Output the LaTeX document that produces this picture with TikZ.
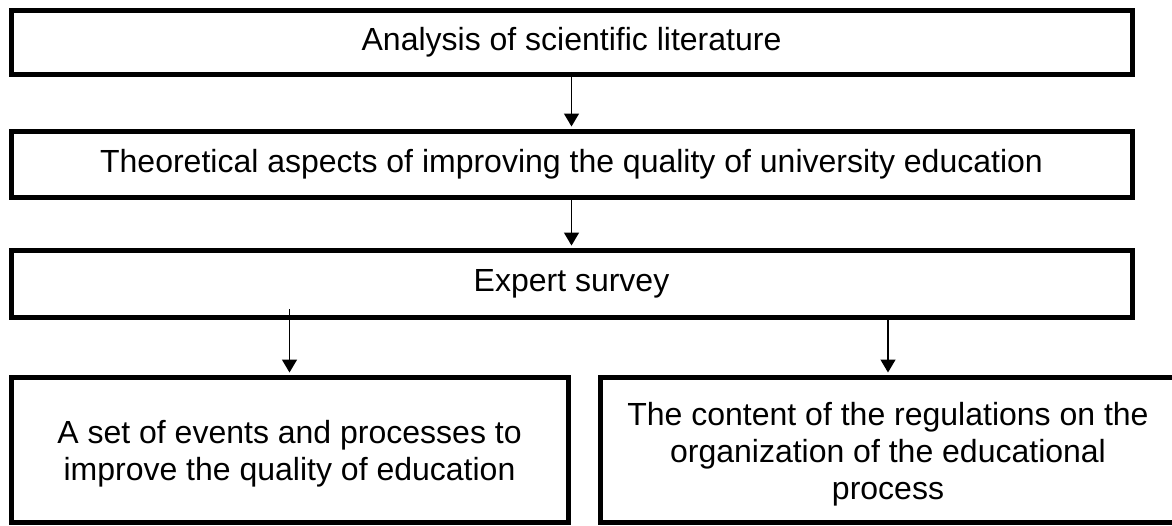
\documentclass[tikz,border=0pt]{standalone}
\usepackage{fontspec}
\setmainfont{Liberation Sans}
\usepackage{tikz}
\usetikzlibrary{arrows.meta}

\begin{document}
\begin{tikzpicture}[x = 0.5pt, y = -0.5pt, every node/.style={rectangle, inner sep = 0pt, align = center, font = \fontsize{16pt}{18.5pt}\selectfont},box/.style={draw, line width = 2.5pt},wide/.style={box, minimum width = 560.5pt},arr/.style={-{Triangle[length = 6.5pt, width = 7.5pt]}, line width = 0.75pt, shorten >= 1pt}]
	
	\useasboundingbox (0,0) rectangle (1172,525);
	
	\node[wide, minimum height = 32pt] (lit) at (571.5,42) {Analysis of scientific literature};
	\node[wide, minimum height = 33pt] (theory) at (571.5,164) {Theoretical aspects of improving the quality of university education};
	\node[wide, minimum height = 33.5pt] (survey) at (571.5,283.5) {Expert survey};
	\node[box, minimum width = 278.5pt, minimum height = 72.5pt] (events) at (289.5,449.5) {};
	\node[box, minimum width = 288pt, minimum height = 72.5pt] (rules) at (888,449.5) {};
	\node[yshift = -2.2pt] (eventstext) at (events.center) {A set of events and processes to\\ improve the quality of education};
	\node[yshift = -2.2pt] (rulestext) at (rules.center) {The content of the regulations on the\\ organization of the educational\\ process};
	
	\coordinate (start) at (289.5,309);
	
	\draw[arr] (lit) -- (theory);
	\draw[arr] (theory) -- (survey);
	\draw[arr] (start) -- (events.north);
	\draw[arr] (survey.south -| rules.north) -- (rules.north);
	
\end{tikzpicture}
\end{document}
